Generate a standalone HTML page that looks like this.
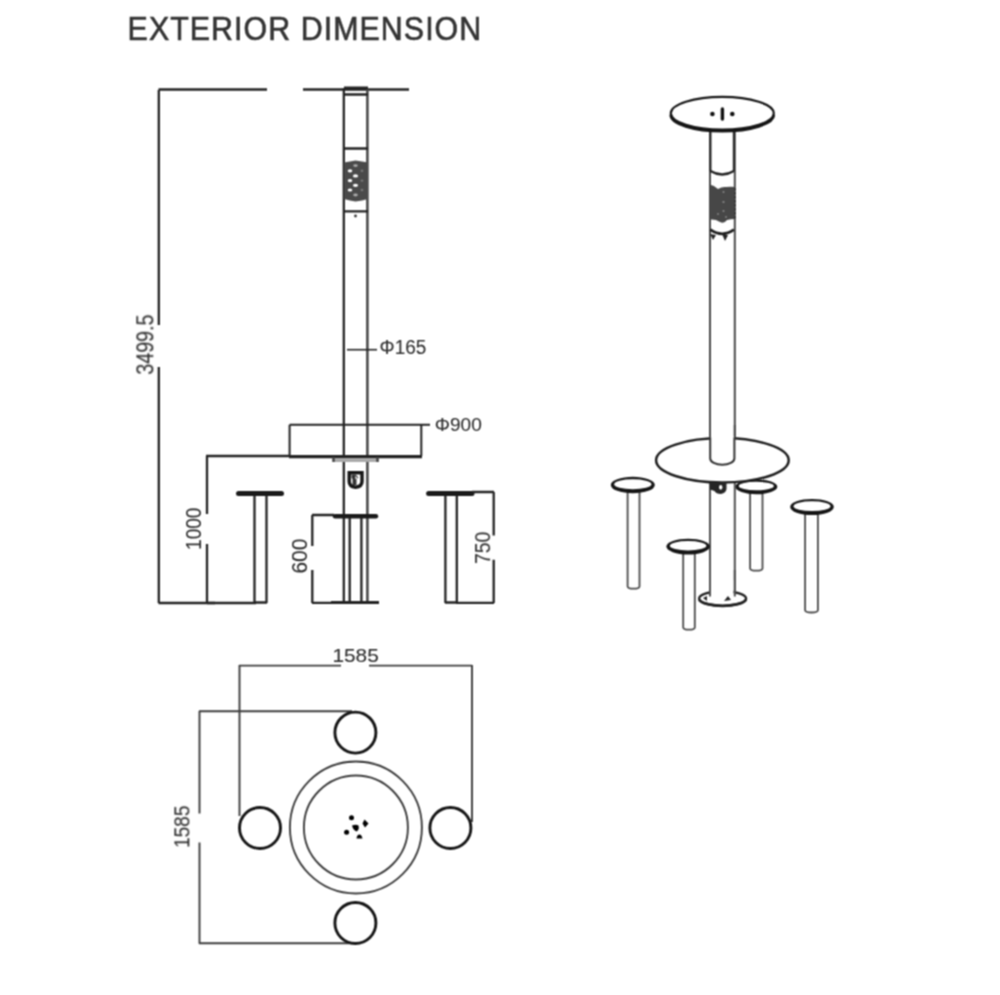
<!DOCTYPE html>
<html><head><meta charset="utf-8">
<style>
html,body{margin:0;padding:0;background:#fff;width:1000px;height:995px;overflow:hidden}
svg{display:block}
#txt{position:absolute;left:0;top:0}
text{font-family:"Liberation Sans",sans-serif}
</style></head>
<body><div id="wrap">
<svg width="1000" height="995" viewBox="0 0 1000 995">
<defs><filter id="sm" x="0" y="0" width="1000" height="995" filterUnits="userSpaceOnUse" color-interpolation-filters="sRGB"><feConvolveMatrix order="3" kernelMatrix="1 2 1 2 4 2 1 2 1" divisor="16" edgeMode="duplicate"/></filter></defs>
<g filter="url(#sm)">
<rect width="1000" height="995" fill="#fff"/>
<!-- title -->

<g fill="none" stroke="#222" stroke-width="2.3">
<!-- 3499.5 dim -->
<path d="M158.5 89.5H267M158.8 90V325M158.8 367V603M158.5 603H256"/>
<!-- pole top line -->
<path d="M303 89.5H409"/>
<!-- pole rails -->
<path d="M343.8 88V603"/><path d="M367.4 88V603" stroke="#4a4a4a" stroke-width="2.6"/>
<path d="M344 94.5H368M344 148.5H368M344 211.4H368"/>
<!-- phi165 leader -->
<path d="M347 349.7H377" stroke-width="1.6"/>
<!-- table -->
<path d="M289.6 424.7H421.3M289.6 424.7V456M421.3 424.7V456M421 424.8H430" stroke-width="2"/>
<path d="M289 456.7H422" stroke-width="3.2" stroke="#222"/>
<!-- 1000 dim -->
<path d="M206 456H290M207 456V514M207 544V603M207 603H215" />
<!-- left stool -->
<path d="M238.5 493.5H281.5" stroke-width="5" stroke="#1a1a1a" stroke-linecap="round"/>
<path d="M254.5 496V603M266.5 496V603M254 602.5H267"/>
<!-- 600 dim -->
<path d="M312 515H334M312.3 515V546M312.3 570V603M312 602.8H331"/>
<!-- middle stool seat -->
<path d="M335 516.3H376" stroke-width="4.4" stroke="#1a1a1a" stroke-linecap="round"/>
<path d="M349.7 518V603M361.4 518V603"/>
<path d="M331 602.5H379" stroke-width="3.2" stroke="#222"/>
<!-- right stool -->
<path d="M428.6 493.5H472" stroke-width="5" stroke="#1a1a1a" stroke-linecap="round"/>
<path d="M445.4 496V603M456.8 496V603M445 602.5H457"/>
<!-- 750 dim -->
<path d="M472 492H494M493.7 492V535.6M493.7 559.7V603M456 602.8H494"/>
</g>
<!-- bracket under table -->
<path d="M333 460H378.5" stroke="#aaa" stroke-width="4" fill="none"/><path d="M333.5 457V462M377.5 457V462" stroke="#444" stroke-width="2.5"/>
<!-- lock icon -->
<path d="M349.2 472.8H362V481.5Q362 486.6 355.6 487.2Q349.2 486.6 349.2 481.5Z" fill="#fff" stroke="#151515" stroke-width="3.4"/>
<path d="M351.5 474.5H355.5L358.5 477.5L356.5 479V485H352.5V479L351.5 478Z" fill="#333"/>
<path d="M355 476L358 478L355.5 479.5Z" fill="#ddd"/>
<!-- cap -->
<path d="M344 88H368" stroke="#222" stroke-width="3"/>
<!-- mesh -->
<path d="M344 162.5L350 161.5L355.5 160.5L362 161.5L368 162.5V199L362 200.5L355.5 201.5L350 200.5L344 199Z" fill="#4a4a4a"/>
<g fill="#fff">
<ellipse cx="350" cy="170.8" rx="2.3" ry="1.6"/>
<ellipse cx="355.5" cy="175.9" rx="2.6" ry="1.6"/>
<ellipse cx="350" cy="180.6" rx="2.3" ry="1.6"/>
<ellipse cx="355.5" cy="185.3" rx="2.6" ry="1.6"/>
<ellipse cx="350" cy="190" rx="2.3" ry="1.6"/>
</g>
<g fill="#aaa">
<ellipse cx="355.5" cy="165.6" rx="2.3" ry="1.4"/>
<ellipse cx="355.5" cy="195" rx="2.3" ry="1.4"/>
<ellipse cx="362" cy="170.8" rx="1.4" ry="1.2" fill="#777"/>
<ellipse cx="362" cy="180.6" rx="1.4" ry="1.2" fill="#777"/>
<ellipse cx="362" cy="190" rx="1.4" ry="1.2" fill="#777"/>
</g>
<circle cx="355.5" cy="216" r="1.4" fill="#333"/>


<!-- perspective view -->
<path d="M710 125V440M734.8 125V440" fill="none" stroke="#4a4a4a" stroke-width="2"/>
<path d="M710.4 125V171M733.9 125V171" fill="none" stroke="#2a2a2a" stroke-width="2.2"/>
<path d="M710.4 171Q722.2 178 733.9 171" fill="none" stroke="#222" stroke-width="2.4"/>
<path d="M709.6 184.4Q714 185 718 189Q722 186.5 726 187Q731 186.5 735 187V219Q731 219 727 220Q724 224 720 222Q715 219 709.6 219.7Z" fill="#474747"/>
<path d="M735 188V219" stroke="#333" stroke-width="1.6" stroke-dasharray="2.5 1.5" fill="none"/>
<g fill="#8a8a8a"><circle cx="723.5" cy="192" r="1"/><circle cx="723.5" cy="202" r="1.1"/><circle cx="723.5" cy="211" r="1"/><circle cx="718" cy="214" r="0.9"/><circle cx="726" cy="217" r="0.9"/></g>
<path d="M710.4 229.7Q722.2 238 733.9 229.7" fill="none" stroke="#1e1e1e" stroke-width="2.8"/>
<path d="M710.2 234L713 240L716 235ZM722.5 235L725 241L728 235Z" fill="#222"/>
<ellipse cx="722.3" cy="113.3" rx="51.5" ry="16.4" fill="#fff" stroke="#151515" stroke-width="2.2"/>
<path d="M670.80 113.3A51.5 16.4 0 0 0 773.80 113.3" transform="translate(0 1.5)" fill="none" stroke="#151515" stroke-width="2.8"/>
<circle cx="712.4" cy="114" r="2.3" fill="#111"/>
<circle cx="732.3" cy="114" r="2.3" fill="#111"/>
<path d="M722.4 109V119" stroke="#111" stroke-width="3.4" stroke-linecap="round"/>
<path d="M750.1 490V568.50Q750.1 570.70 756.30 570.70Q762.5 570.70 762.5 568.50V490" fill="#fff" stroke="#4a4a4a" stroke-width="1.8"/>
<ellipse cx="756.30" cy="486.85" rx="21.00" ry="7.45" fill="#151515"/><ellipse cx="756.30" cy="486.05" rx="17.60" ry="4.25" fill="#fff"/>
<path d="M710 480V596.5M734.8 480V596.5" fill="none" stroke="#505050" stroke-width="2"/>
<ellipse cx="722.4" cy="460.3" rx="66.3" ry="22.2" fill="#fff" stroke="#1e1e1e" stroke-width="2.5"/>
<path d="M710.2 436V458.5A12.1 6.2 0 0 0 734.4 458.5V436" fill="#fff" stroke="none"/><path d="M710.2 437.5V458.5A12.1 6.2 0 0 0 734.4 458.5V437.5" fill="none" stroke="#333" stroke-width="2"/><path d="M710 425V438M734.8 425V438" fill="none" stroke="#4a4a4a" stroke-width="2"/>
<path d="M710 482H726.5V489Q726 493 721 494Q716 494 714.5 491L710 489.5Z" fill="#262626"/><ellipse cx="720.7" cy="487.3" rx="1.7" ry="2.4" fill="#fff"/>
<ellipse cx="722.6" cy="598.4" rx="23.5" ry="7.2" fill="#fff" stroke="#222" stroke-width="2.4"/>
<path d="M699.2 598.4A23.5 7.2 0 0 0 746 598.4" transform="translate(0 1)" fill="none" stroke="#222" stroke-width="2.6"/>
<path d="M711 580V596L716 599L726 600L733.5 596V580Z" fill="#fff"/>
<path d="M710 570V596.5M734.8 570V596.5" fill="none" stroke="#505050" stroke-width="2"/>
<path d="M724 601L728 596L731 600Z" fill="#222"/><path d="M703 598L707 596L707 601Z" fill="#222"/>
<path d="M627.6 488V586.50Q627.6 588.70 633.55 588.70Q639.5 588.70 639.5 586.50V488" fill="#fff" stroke="#4a4a4a" stroke-width="1.8"/>
<ellipse cx="632.80" cy="485.00" rx="22.00" ry="8.20" fill="#151515"/><ellipse cx="632.80" cy="484.20" rx="18.60" ry="5.00" fill="#fff"/>
<path d="M805.1 510V610.30Q805.1 612.50 811.50 612.50Q817.9 612.50 817.9 610.30V510" fill="#fff" stroke="#4a4a4a" stroke-width="1.8"/>
<ellipse cx="812.00" cy="507.00" rx="21.80" ry="8.10" fill="#151515"/><ellipse cx="812.00" cy="506.20" rx="18.40" ry="4.90" fill="#fff"/>
<path d="M683.2 550V627.40Q683.2 629.60 689.00 629.60Q694.8 629.60 694.8 627.40V550" fill="#fff" stroke="#4a4a4a" stroke-width="1.8"/>
<ellipse cx="688.10" cy="546.60" rx="21.70" ry="7.90" fill="#151515"/><ellipse cx="688.10" cy="545.80" rx="18.30" ry="4.70" fill="#fff"/>

<!-- plan view -->
<g fill="none" stroke="#3c3c3c" stroke-width="1.9">
<path d="M239 665.6H341M369 665.6H472M239.5 665V816M472 665V822"/>
<path d="M199 711.2H352M199.5 711V813.5M199.5 842.4V943.7M199 943.2H355"/>
<circle cx="355.9" cy="827.5" r="66"/>
<circle cx="355.9" cy="827.5" r="52"/>
</g>
<g fill="none" stroke="#151515" stroke-width="2.9">
<circle cx="355.4" cy="732.6" r="20.5"/>
<circle cx="260" cy="828" r="20.5"/>
<circle cx="450.4" cy="828" r="20.5"/>
<circle cx="355.4" cy="923" r="20.5"/>
</g>
<g fill="#000">
<circle cx="351.5" cy="817.8" r="2.5"/>
<path d="M364.5 819.5L368.5 823.5L365 827.5L362.5 823.5Z"/>
<circle cx="346.6" cy="832.2" r="2.5"/>
<path d="M356.5 838.5H362.5Q361.5 834.5 359.5 834.5Q357 834.5 356.5 838.5Z"/>
<path d="M352 825.5Q356 824 358.5 825.5Q359.5 830 356.5 831.5Q353 830 352 825.5Z"/>
</g>
</g>
</svg>
</div>
<svg id="txt" width="1000" height="995" viewBox="0 0 1000 995">
<defs><filter id="sm2" x="0" y="0" width="1000" height="995" filterUnits="userSpaceOnUse" color-interpolation-filters="sRGB"><feConvolveMatrix order="3" kernelMatrix="1 2 1 2 4 2 1 2 1" divisor="16" edgeMode="duplicate" preserveAlpha="false"/></filter></defs>
<!-- texts -->
<g fill="#2e2e2e" stroke="#2e2e2e" stroke-width="0.1" filter="url(#sm2)">
<text transform="translate(379.55 353.50) scale(0.948 1.014)" font-size="20">Φ165</text>
<text transform="translate(434.85 430.50) scale(0.952 0.964)" font-size="20">Φ900</text>
<text transform="translate(153.60 374.69) rotate(-90) scale(0.986 1.164)" font-size="20">3499.5</text>
<text transform="translate(201.00 549.90) rotate(-90) scale(0.952 1.071)" font-size="20">1000</text>
<text transform="translate(306.50 573.55) rotate(-90) scale(1.047 1.107)" font-size="20">600</text>
<text transform="translate(490.00 563.97) rotate(-90) scale(0.969 1.100)" font-size="20">750</text>
<text transform="translate(332.41 662.00) scale(1.043 0.964)" font-size="20">1585</text>
<text transform="translate(189.80 847.90) rotate(-90) scale(0.952 1.129)" font-size="20">1585</text>
<text transform="translate(127.6 40.0) scale(0.95 1.02)" font-size="32" fill="#333" stroke="#333" stroke-width="0.6" letter-spacing="1.1">EXTERIOR DIMENSION</text>
</g>
</svg>
</body></html>
